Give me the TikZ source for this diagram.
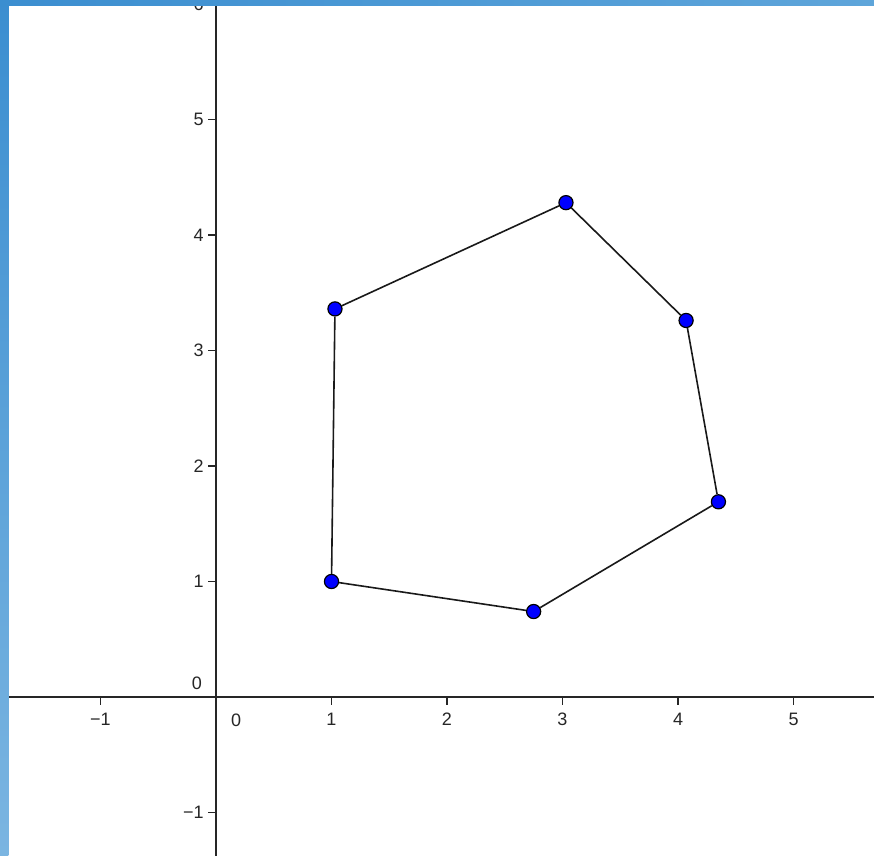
\documentclass[tikz,border=0pt]{standalone}
\usepackage{fontspec}
\setmainfont{Liberation Sans}
\definecolor{barA}{HTML}{3B8ED0}
\definecolor{barB}{HTML}{5EA5DA}
\definecolor{barC}{HTML}{7BB5E1}
\definecolor{ptblue}{HTML}{0000FF}
\begin{document}
\begin{tikzpicture}[x=86.625pt,y=86.625pt,
  axis/.style={line width=1.5pt,black!85},
  tick/.style={line width=1.4pt,black!85},
  edge/.style={line width=1.2pt,black!90},
  pt/.style={circle,draw=black,line width=0.9pt,fill=ptblue,minimum size=10.6pt,inner sep=0pt},
  lab/.style={inner sep=0pt,font=\fontsize{13.5}{15}\selectfont,text=black!85}]
\useasboundingbox (-1.87013,-1.37662) rectangle (5.69697,6.03463);
\fill[white] (-1.87013,-1.37662) rectangle (5.69697,6.03463);
\begin{scope}
\clip (-1.87013,-1.37662) rectangle (5.69697,6.03463);
% axes
\coordinate (xl) at (-1.87013,0);
\coordinate (xr) at (5.69697,0);
\coordinate (yb) at (0,-1.37662);
\coordinate (yt) at (0,6.03463);
\draw[axis] (xl) -- (xr);
\draw[axis] (yb) -- (yt);
% x ticks and labels
\foreach \i/\t in {-1/−1,1/1,2/2,3/3,4/4,5/5} {
  \coordinate (xt\i) at (\i,0);
  \coordinate (xs\i) at (\i,-0.07);
  \draw[tick] (xt\i) -- (xs\i);
  \node[lab,anchor=north] (xlab\i) at (\i,-0.1385) {\t};
}
% y ticks and labels
\foreach \i/\t in {-1/−1,1/1,2/2,3/3,4/4,5/5,6/6} {
  \coordinate (yt\i) at (0,\i);
  \coordinate (ys\i) at (-0.07,\i);
  \draw[tick] (yt\i) -- (ys\i);
  \node[lab,anchor=east] (ylab\i) at (-0.105,\i) {\t};
}
\node[lab] (zeroy) at (-0.1645,0.1212) {0};
\node[lab] (zerox) at (0.1732,-0.199) {0};
% polygon vertices
\node[pt] (A) at (1.00,1.00) {};
\node[pt] (B) at (2.75,0.74) {};
\node[pt] (C) at (4.35,1.69) {};
\node[pt] (D) at (4.07,3.26) {};
\node[pt] (E) at (3.03,4.28) {};
\node[pt] (F) at (1.03,3.36) {};
\draw[edge] (A) -- (B);
\draw[edge] (B) -- (C);
\draw[edge] (C) -- (D);
\draw[edge] (D) -- (E);
\draw[edge] (E) -- (F);
\draw[edge] (F) -- (A);
% frame bars
\shade[top color=barA,bottom color=barC] (-1.87013,-1.37662) rectangle (-1.79654,6.03463);
\shade[left color=barA,right color=barB] (-1.87013,5.98268) rectangle (5.69697,6.03463);
\end{scope}
\end{tikzpicture}
\end{document}
